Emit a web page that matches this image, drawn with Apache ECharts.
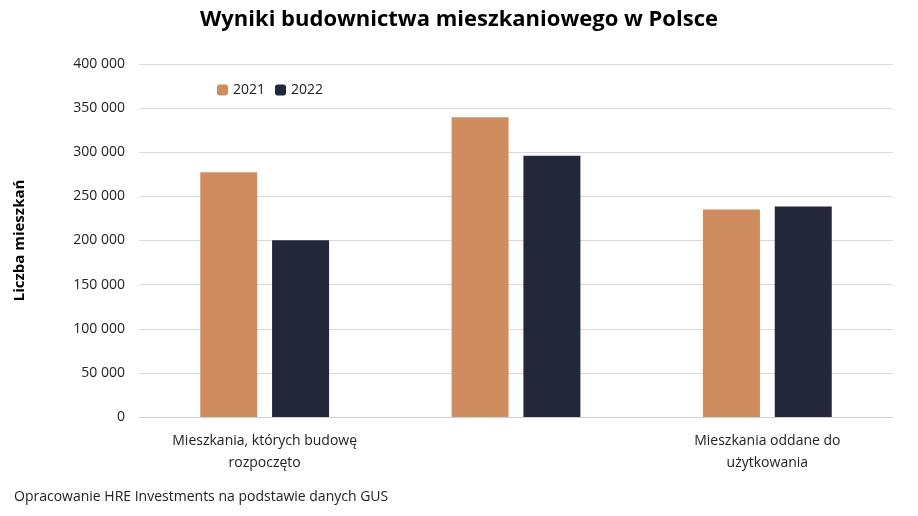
<!DOCTYPE html>
<html><head><meta charset="utf-8">
<script src="https://cdn.jsdelivr.net/npm/echarts@6/dist/echarts.min.js"></script>
<style>html,body{margin:0;padding:0;background:#fff}#c{width:918px;height:516px}</style>
</head><body><div id="c"></div>
<script>
const categories = ["Mieszkania, których budowę\nrozpoczęto", "Mieszkania, na których budowę\nwydano pozwolenia", "Mieszkania oddane do\nużytkowania"];
const values2021 = [277400, 339600, 235000];
const values2022 = [200300, 295900, 238400];
const yTicks = [0, 50000, 100000, 150000, 200000, 250000, 300000, 350000, 400000];
const font = "'Open Sans', sans-serif";
const fmt = v => String(v).replace(/\B(?=(\d{3})+(?!\d))/g, " ");
const chart = echarts.init(document.getElementById('c'));
chart.setOption({
  animation: false,
  textStyle: {fontFamily: font},
  title: {text: "Wyniki budownictwa mieszkaniowego w Polsce", left: 'center', top: 4,
    textStyle: {fontSize: 22, fontWeight: 'bold', color: '#000', fontFamily: font}},
  legend: {top: 78, left: 212, itemWidth: 11, itemHeight: 11, itemGap: 10,
    textStyle: {fontSize: 14, color: '#222', fontFamily: font}},
  grid: {left: 139, right: 25, top: 64, bottom: 99},
  xAxis: {type: 'category', data: categories,
    axisLine: {lineStyle: {color: '#d0d0d0'}}, axisTick: {show: false},
    axisLabel: {fontSize: 14, color: '#222', lineHeight: 22, margin: 13, fontFamily: font}},
  yAxis: {type: 'value', min: yTicks[0], max: yTicks[yTicks.length-1], interval: 50000,
    name: "Liczba mieszkań", nameLocation: 'middle', nameGap: 112, nameRotate: 90,
    nameTextStyle: {fontSize: 15, fontWeight: 'bold', color: '#000', fontFamily: font},
    axisLabel: {fontSize: 14, color: '#222', formatter: fmt, margin: 14, fontFamily: font},
    splitLine: {lineStyle: {color: '#d9d9d9'}}},
  series: [
    {name: '2021', type: 'bar', data: values2021, barWidth: 57, barGap: '26%', itemStyle: {color: '#CF8D5F'}},
    {name: '2022', type: 'bar', data: values2022, barWidth: 57, itemStyle: {color: '#22283A'}}
  ],
  graphic: [{type: 'text', left: 14, top: 490, style: {text: "Opracowanie HRE Investments na podstawie danych GUS", fontSize: 14, fill: '#222', fontFamily: font}}]
});
</script></body></html>
